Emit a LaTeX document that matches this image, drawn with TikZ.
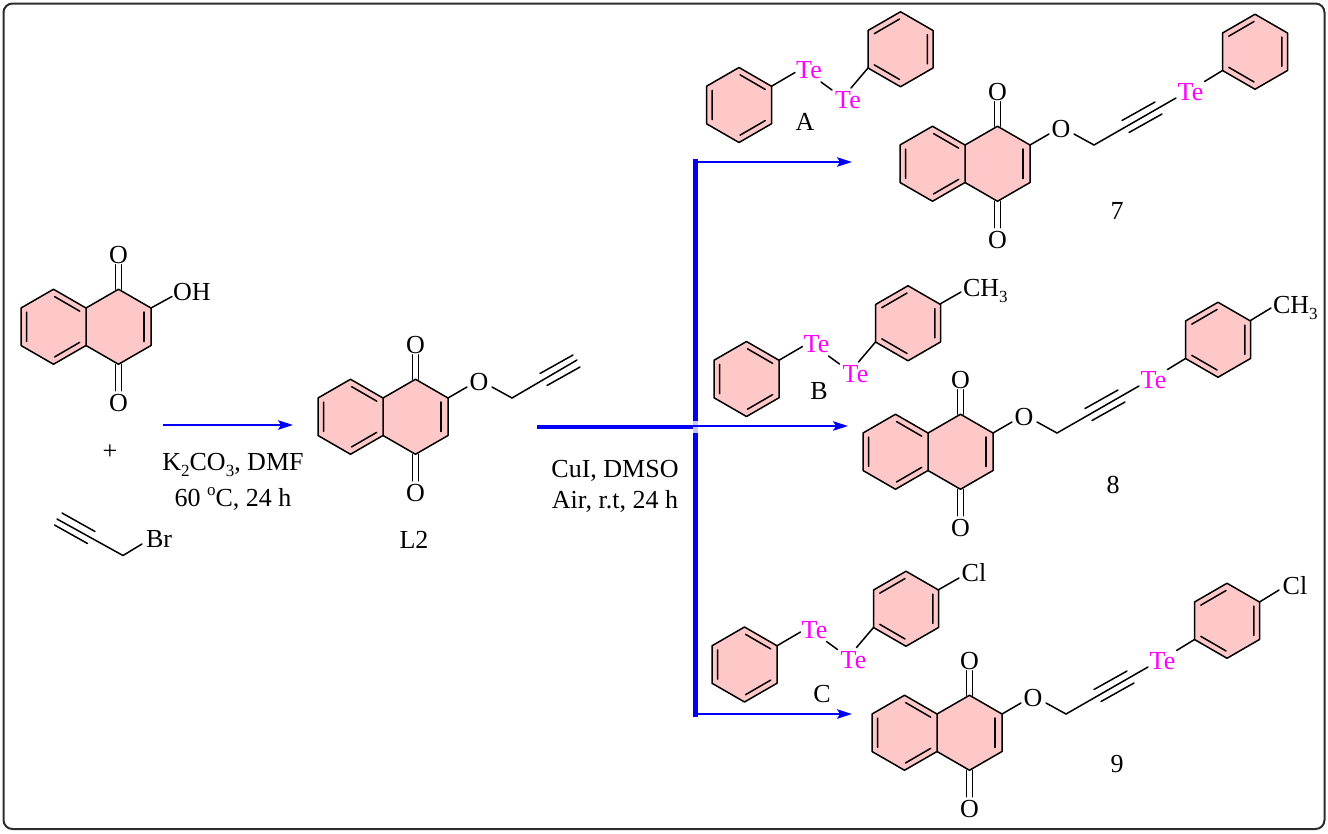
\documentclass[tikz,border=0pt]{standalone}
\usepackage{fontspec}
\setmainfont{Liberation Serif}
\usetikzlibrary{arrows.meta}
\definecolor{ringpink}{RGB}{255,200,200}
\definecolor{arrowblue}{RGB}{0,0,245}
\definecolor{framegray}{RGB}{45,45,45}
\definecolor{tepink}{RGB}{255,0,255}
\newcommand{\sbs}[1]{\raisebox{-0.24em}{\fontsize{17}{17}\selectfont #1}}
\newcommand{\sps}[1]{\raisebox{0.42em}{\fontsize{17}{17}\selectfont #1}}
% ring outline
\newcommand{\hexpath}{(0,-37.5) -- (32.5,-18.75) -- (32.5,18.75) -- (0,37.5) -- (-32.5,18.75) -- (-32.5,-18.75) -- cycle}
% ring with inner bonds top-right, bottom-right, left
\newcommand{\ringA}[2]{\begin{scope}[shift={(#1,#2)}]
  \draw[bond,fill=ringpink] \hexpath;
  \draw[bond] (1,-30.2) -- (26.2,-15.6) (26.2,15.6) -- (1,30.2) (-26.8,14.6) -- (-26.8,-14.6);
\end{scope}}
% ring with inner bonds upper-left, right, lower-left
\newcommand{\ringB}[2]{\begin{scope}[shift={(#1,#2)}]
  \draw[bond,fill=ringpink] \hexpath;
  \draw[bond] (-26.2,-15.6) -- (-1,-30.2) (26.8,-14.6) -- (26.8,14.6) (-26.2,15.6) -- (-1,30.2);
\end{scope}}
% naphthoquinone; #1 name, (#2,#3) upper fused carbon
\newcommand{\naph}[3]{\begin{scope}[shift={(#2,#3)}]
  \draw[bond,fill=ringpink] (0,0) -- (32.5,-18.75) -- (65,0) -- (65,37.5) -- (32.5,56.25) -- (0,37.5) -- cycle;
  \draw[bond] (58,4) -- (58,33.5);
  \node[lab] (#1ot) at (32.5,-53) {O};
  \node[lab] (#1ob) at (32.5,95) {O};
  \coordinate (#1ct) at (32.5,-18.75);
  \coordinate (#1cb) at (32.5,56.25);
  \coordinate (#1c2) at (65,0);
  \draw[bond] ([xshift=-3.2pt]#1ct) -- ++(0,-24.5) ([xshift=3.2pt]#1ct) -- ++(0,-24.5);
  \draw[bond] ([xshift=-3.2pt]#1cb) -- ++(0,26.5) ([xshift=3.2pt]#1cb) -- ++(0,26.5);
\end{scope}
\ringA{#2-32.5}{#3+18.75}}
% O-CH2 chain after C2; #1 name, (#2,#3) upper fused carbon
\newcommand{\ochain}[3]{\begin{scope}[shift={(#2,#3)}]
  \node[lab] (#1o) at (96,-16) {O};
  \coordinate (#1ob1) at (84,-11);
  \coordinate (#1ob2) at (109,-11);
  \coordinate (#1ch) at (129,0);
  \draw[bond] (#1c2) -- (#1ob1) (#1ob2) -- (#1ch);
  \draw[bond] (157,-24.5) -- (190,-43) (164,-12.5) -- (197,-31);
\end{scope}}
% Te-aryl end of a product
\newcommand{\prodte}[3]{\begin{scope}[shift={(#2,#3)}]
  \node[te] (#1te) at (225.5,-53.5) {Te};
  \coordinate (#1te1) at (211,-47);
  \coordinate (#1te2) at (239.5,-63.5);
  \coordinate (#1ip) at (257.5,-74.5);
  \coordinate (#1tc) at (290,-93.25);
  \draw[bond] (#1ch) -- (#1te1) (#1te2) -- (#1ip);
\end{scope}
\ringB{#2+290}{#3-93.25}}
% diaryl ditelluride; #1 name, (#2,#3) centre of the left ring
\newcommand{\ditel}[3]{\ringA{#2}{#3}
\begin{scope}[shift={(#2,#3)}]
  \node[te] (#1t1) at (70,-35) {Te};
  \node[te] (#1t2) at (109,-5) {Te};
  \coordinate (#1a) at (32.5,-18.75);
  \coordinate (#1b) at (56,-32.5);
  \coordinate (#1c) at (82,-23);
  \coordinate (#1d) at (93,-15);
  \coordinate (#1e) at (112,-17);
  \coordinate (#1f) at (129,-37);
  \draw[bond] (#1a) -- (#1b) (#1c) -- (#1d) (#1e) -- (#1f);
\end{scope}
\ringB{#2+161.5}{#3-55.75}}
\tikzset{
  bond/.style={draw=black,line width=1.5pt,line join=round,line cap=round},
  lab/.style={inner sep=0pt,outer sep=0pt,text height=17pt,text depth=0pt,font=\fontsize{26}{30}\selectfont,text=black},
  te/.style={lab,text=tepink},
  thinarrow/.style={draw=arrowblue,line width=1.6pt,-{Stealth[length=15pt,width=9.5pt,inset=3pt]}},
  thickbar/.style={draw=arrowblue,line width=4.8pt},
}
\begin{document}
\begin{tikzpicture}[x=1pt,y=-1pt]
\useasboundingbox (0,0) rectangle (1328,833);
\fill[white] (0,0) rectangle (1328,833);
\draw[framegray,line width=2pt,rounded corners=9pt] (3.5,3.5) rectangle (1324.5,829);

% 2-hydroxy-1,4-naphthoquinone
\naph{h}{86}{308}
\node[lab] (oh) at (192,292) {OH};
\coordinate (ohb) at (172,296.5);
\draw[bond] (hc2) -- (ohb);
\node[lab] (plus) at (110,451) {+};

% propargyl bromide
\node[lab] (br) at (159,539) {Br};
\coordinate (pa) at (57,519);
\coordinate (pb) at (123,555.5);
\coordinate (pc) at (142,544);
\coordinate (pd) at (62,513);
\coordinate (pe) at (95,531.5);
\coordinate (pf) at (54.5,525);
\coordinate (pg) at (87.5,543.5);
\draw[bond] (pa) -- (pb) -- (pc) (pd) -- (pe) (pf) -- (pg);

% first arrow
\coordinate (a1s) at (163,425);
\coordinate (a1e) at (293,425);
\draw[thinarrow] (a1s) -- (a1e);
\node[lab] (cond1) at (233,462) {K\sbs{2}CO\sbs{3}, DMF};
\node[lab] (cond2) at (233,498) {60 \sps{o}C, 24 h};

% L2
\naph{l}{383}{398}
\ochain{l}{383}{398}
\coordinate (lend) at (577,360);
\draw[bond] (lch) -- (lend);
\node[lab] (l2) at (414,540) {L2};

% branching bars and arrows
\coordinate (hs) at (537,427);
\coordinate (hj) at (693,427);
\coordinate (vt) at (695.3,158.5);
\coordinate (vb) at (695.3,717);
\draw[thickbar] (hs) -- (hj);
\draw[thickbar] (vt) -- (vb);
\fill[arrowblue!22] (692.7,420.5) rectangle (697.7,433);
\coordinate (a2s) at (695,162);
\coordinate (a2e) at (852,162);
\coordinate (a3s) at (693,426);
\coordinate (a3e) at (848,426);
\coordinate (a4s) at (695,714);
\coordinate (a4e) at (852,714);
\draw[thinarrow] (a2s) -- (a2e);
\draw[thinarrow] (a3s) -- (a3e);
\draw[thinarrow] (a4s) -- (a4e);
\node[lab] (cond3) at (615,469) {CuI, DMSO};
\node[lab] (cond4) at (615,500) {Air, r.t, 24 h};

% reagent A
\ditel{A}{739}{105}
\node[lab] (la) at (805,122) {A};

% reagent B
\ditel{B}{746.5}{379}
\node[lab] (lb) at (819,391) {B};
\coordinate (bpara) at (940,304);
\coordinate (bme) at (961,292);
\draw[bond] (bpara) -- (bme);
\node[lab,anchor=west] (bch) at (963,288) {CH\sbs{3}};

% reagent C
\ditel{C}{744.5}{664.5}
\node[lab] (lc) at (822,694) {C};
\coordinate (cpara) at (938,590);
\coordinate (ccl) at (959,578);
\draw[bond] (cpara) -- (ccl);
\node[lab] (ccltxt) at (974,573) {Cl};

% product 7
\naph{p}{965}{145}
\ochain{p}{965}{145}
\prodte{p}{965}{145}
\node[lab] (n7) at (1117,211) {7};

% product 8
\naph{q}{928}{433}
\ochain{q}{928}{433}
\prodte{q}{928}{433}
\coordinate (qpara) at (1250.5,320.5);
\coordinate (qme) at (1271,308);
\draw[bond] (qpara) -- (qme);
\node[lab,anchor=west] (qch) at (1273,305) {CH\sbs{3}};
\node[lab] (n8) at (1113,485) {8};

% product 9
\naph{r}{937}{714}
\ochain{r}{937}{714}
\prodte{r}{937}{714}
\coordinate (rpara) at (1259.5,602);
\coordinate (rcl) at (1279,590);
\draw[bond] (rpara) -- (rcl);
\node[lab] (rcltxt) at (1295,586) {Cl};
\node[lab] (n9) at (1117,764) {9};
\end{tikzpicture}
\end{document}
